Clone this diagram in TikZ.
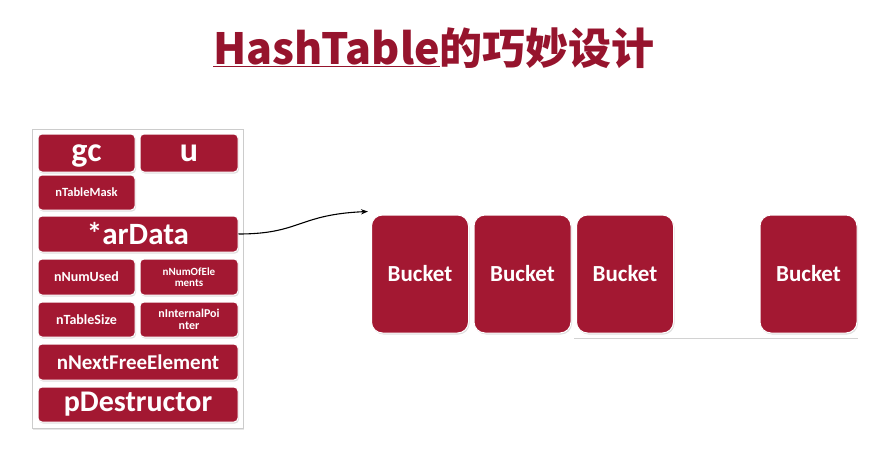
\documentclass[tikz,border=0pt]{standalone}
\usepackage{fontspec}
\setmainfont{Carlito}
\newfontfamily\cjk{Noto Sans CJK SC}
\usetikzlibrary{arrows.meta,shadows}
\definecolor{slidered}{RGB}{163,24,50}
\definecolor{titlered}{RGB}{150,20,45}

\tikzset{
	cell/.style={rectangle, rounded corners=4pt, fill=slidered, draw=white, line width=1pt,
		text=white, font=\bfseries, align=center, inner sep=1pt,
		drop shadow={shadow xshift=1pt, shadow yshift=-1.5pt, opacity=.25}},
	bucket/.style={cell, rounded corners=11pt, minimum width=97, minimum height=118, font=\bfseries\fontsize{23}{24}\selectfont},
}

\begin{document}
\begin{tikzpicture}[x=1pt,y=-1pt]
	\useasboundingbox (0,0) rectangle (887,463);
	\node[font=\cjk\bfseries\fontsize{43}{45}\selectfont, text=titlered] (title) at (434,48) {\underline{HashTable}的巧妙设计};

	% the zend_array struct
	\node[draw=gray!40, fill=white, minimum width=211, minimum height=299, drop shadow={shadow xshift=1pt, shadow yshift=-1.5pt, opacity=.2}] (ht) at (137.5,278.5) {};
	\node[cell, minimum width=97, minimum height=38, text depth=0pt, font=\bfseries\fontsize{34}{34}\selectfont] (gc) at (86.5,153) {gc};
	\node[cell, minimum width=98, minimum height=38, text depth=0pt, font=\bfseries\fontsize{34}{34}\selectfont] (u) at (189,153) {u};
	\node[cell, minimum width=97, minimum height=35, font=\bfseries\fontsize{12.5}{13}\selectfont] (mask) at (86.5,192.5) {nTableMask};
	\node[cell, minimum width=200, minimum height=36, font=\bfseries\fontsize{31}{31}\selectfont] (arData) at (138,234) {*arData};
	\node[cell, minimum width=97, minimum height=36, font=\bfseries\fontsize{14}{15}\selectfont] (used) at (86.5,277) {nNumUsed};
	\node[cell, minimum width=98, minimum height=36, font=\bfseries\fontsize{11}{11.5}\selectfont] (elems) at (189,277) {nNumOfEle\\ments};
	\node[cell, minimum width=97, minimum height=35, font=\bfseries\fontsize{14}{15}\selectfont] (size) at (86.5,319.5) {nTableSize};
	\node[cell, minimum width=98, minimum height=35, font=\bfseries\fontsize{12}{12.5}\selectfont] (ptr) at (189,319.5) {nInternalPoi\\nter};
	\node[cell, minimum width=200, minimum height=36, font=\bfseries\fontsize{21}{22}\selectfont] (next) at (138,362) {nNextFreeElement};
	\node[cell, minimum width=200, minimum height=35, font=\bfseries\fontsize{30}{30}\selectfont] (dtor) at (138,404.5) {pDestructor};

	% buckets
	\foreach \i/\x in {1/420,2/522.5,3/625,4/808.5}
		\node[bucket] (b\i) at (\x,274) {Bucket};
	\draw[gray!35, line width=1pt] ([xshift=-2pt, yshift=-5pt]b3.south west) -- ([yshift=-5pt]b4.south east);

	\coordinate (tip) at ([xshift=-3pt, yshift=3pt]b1.north west);
	\draw[-{Stealth[length=7pt]}, line width=1.1pt] (arData.east) .. controls +(62,0) and +(-70,3) .. (tip);
\end{tikzpicture}
\end{document}
